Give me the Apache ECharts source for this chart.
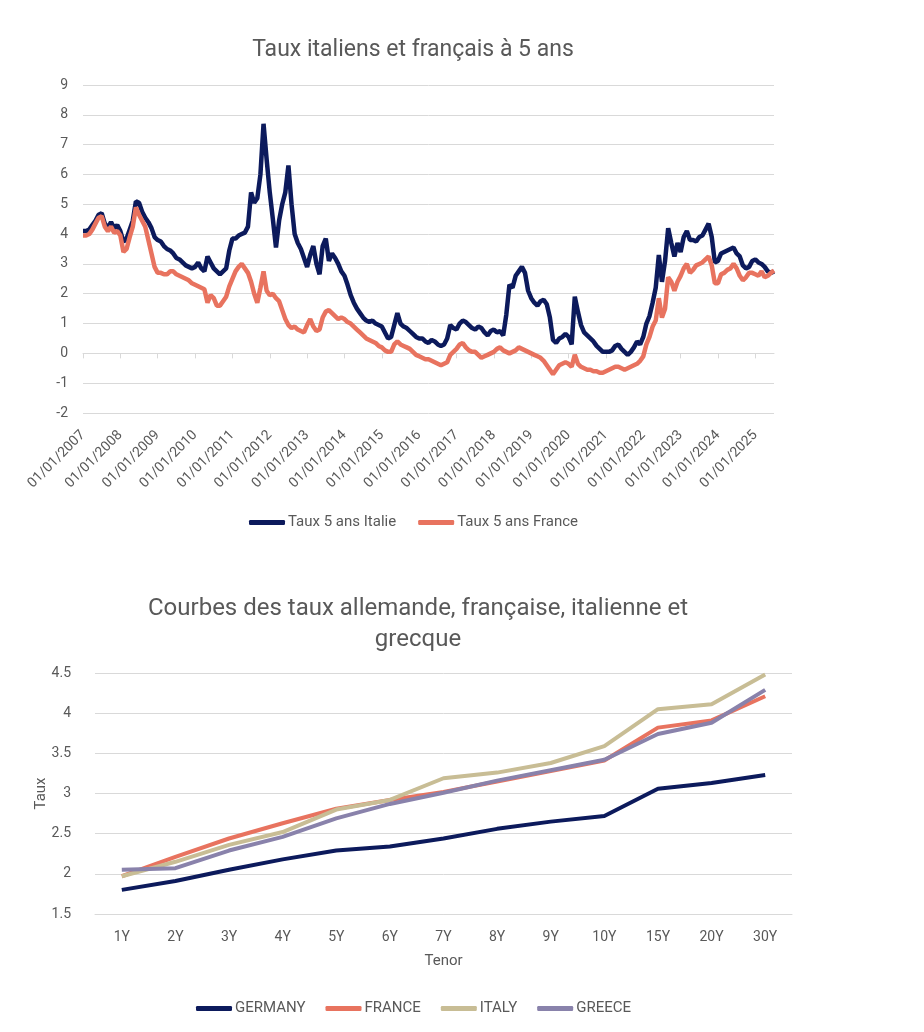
<!DOCTYPE html>
<html><head><meta charset="utf-8">
<script src="https://cdn.jsdelivr.net/npm/echarts@6/dist/echarts.min.js"></script>
<style>html,body{margin:0;padding:0;background:#fff}#c{width:924px;height:1032px}</style>
</head><body><div id="c"></div>
<script>
// ---- Chart 1: monthly 5Y yields, Jan 2007 .. Jul 2025 ----
const startYear = 2007;
const italy5y = [
4.10,4.10,4.15,4.30,4.45,4.65,4.70,4.35,4.20,4.40,4.20,4.30,
4.10,3.75,3.85,4.15,4.45,5.10,5.05,4.75,4.55,4.40,4.20,3.90,
3.80,3.75,3.60,3.50,3.45,3.35,3.20,3.15,3.05,2.95,2.90,2.85,
2.90,3.05,2.85,2.75,3.25,3.05,2.85,2.75,2.65,2.75,2.85,3.45,
3.85,3.85,3.95,4.00,4.05,4.25,5.40,5.05,5.20,6.00,7.70,6.50,
5.40,4.50,3.55,4.45,5.00,5.40,6.30,5.00,4.00,3.70,3.50,3.20,
2.90,3.30,3.60,3.00,2.65,3.60,3.85,3.10,3.35,3.20,3.00,2.75,
2.60,2.30,1.95,1.70,1.50,1.35,1.20,1.10,1.05,1.10,1.00,0.95,
0.90,0.70,0.50,0.55,0.95,1.35,1.00,0.90,0.85,0.75,0.65,0.55,
0.50,0.50,0.40,0.35,0.45,0.40,0.30,0.25,0.30,0.50,0.95,0.85,
0.80,1.00,1.10,1.05,0.95,0.85,0.80,0.90,0.85,0.70,0.60,0.75,
0.80,0.70,0.75,0.60,1.30,2.30,2.20,2.60,2.75,2.90,2.70,2.10,
1.85,1.70,1.60,1.75,1.80,1.65,1.20,0.45,0.35,0.50,0.55,0.65,
0.55,0.30,1.90,1.40,0.95,0.70,0.60,0.50,0.40,0.25,0.15,0.05,
0.05,0.05,0.10,0.25,0.30,0.15,0.05,-0.05,0.05,0.20,0.40,0.30,
0.55,1.00,1.25,1.70,2.20,3.30,2.40,3.10,4.20,3.70,3.25,3.70,
3.40,3.90,4.10,3.80,3.80,3.75,3.90,3.95,4.15,4.35,3.90,3.05,
3.10,3.35,3.40,3.45,3.50,3.55,3.35,3.25,2.95,2.85,2.90,3.10,
3.15,3.05,3.00,2.90,2.75,2.70,2.75
];
const france5y = [
3.95,3.95,4.00,4.15,4.35,4.55,4.60,4.25,4.10,4.25,4.05,4.10,
3.95,3.40,3.50,3.90,4.25,4.90,4.65,4.45,4.25,3.80,3.35,2.90,
2.70,2.70,2.65,2.65,2.75,2.75,2.65,2.60,2.55,2.50,2.45,2.35,
2.30,2.25,2.20,2.15,1.70,1.95,1.85,1.60,1.60,1.75,1.90,2.25,
2.50,2.75,2.90,3.00,2.85,2.70,2.40,2.00,1.70,2.20,2.75,2.10,
1.95,2.00,1.85,1.75,1.45,1.15,0.95,0.85,0.90,0.80,0.75,0.70,
0.95,1.15,0.90,0.75,0.80,1.20,1.40,1.45,1.35,1.25,1.15,1.20,
1.15,1.05,1.00,0.90,0.80,0.70,0.60,0.50,0.45,0.40,0.35,0.25,
0.20,0.10,0.05,0.05,0.30,0.40,0.30,0.25,0.20,0.15,0.05,-0.05,
-0.10,-0.15,-0.20,-0.20,-0.25,-0.30,-0.35,-0.40,-0.35,-0.30,-0.05,0.05,
0.15,0.30,0.35,0.20,0.10,0.05,0.05,-0.05,-0.15,-0.10,-0.05,0.00,
0.05,0.15,0.20,0.10,0.05,0.00,0.05,0.10,0.20,0.15,0.10,0.05,
0.00,-0.05,-0.10,-0.15,-0.25,-0.40,-0.55,-0.70,-0.55,-0.40,-0.35,-0.30,
-0.35,-0.45,-0.05,-0.35,-0.45,-0.50,-0.55,-0.55,-0.60,-0.60,-0.65,-0.65,
-0.60,-0.55,-0.50,-0.45,-0.45,-0.50,-0.55,-0.50,-0.45,-0.40,-0.35,-0.25,
-0.10,0.30,0.55,0.90,1.10,1.85,1.20,1.50,2.55,2.40,2.10,2.40,
2.60,2.85,3.00,2.70,2.80,2.95,3.00,3.05,3.15,3.25,2.95,2.35,
2.35,2.65,2.70,2.80,2.85,3.00,2.85,2.60,2.45,2.55,2.70,2.70,
2.65,2.60,2.75,2.55,2.60,2.70,2.78
];
const monthLabels = [];
for (let i = 0; i < italy5y.length; i++) {
  const y = startYear + Math.floor(i / 12), mo = (i % 12) + 1;
  monthLabels.push('01/' + String(mo).padStart(2, '0') + '/' + y);
}

// ---- Chart 2: yield curves ----
const tenors = ['1Y','2Y','3Y','4Y','5Y','6Y','7Y','8Y','9Y','10Y','15Y','20Y','30Y'];
const germany = [1.80,1.91,2.05,2.18,2.29,2.34,2.44,2.56,2.65,2.72,3.06,3.13,3.23];
const france  = [1.97,2.21,2.44,2.63,2.81,2.92,3.02,3.15,3.28,3.41,3.82,3.91,4.21];
const italy   = [1.97,2.15,2.36,2.52,2.80,2.92,3.19,3.26,3.38,3.59,4.05,4.11,4.48];
const greece  = [2.05,2.07,2.29,2.46,2.69,2.87,3.01,3.16,3.29,3.42,3.74,3.88,4.29];

const FONT = 'Roboto,"Liberation Sans",sans-serif';
const GRAY = '#595959';
const GRID = '#d9d9d9';
const NAVY = '#0c1a5c';
const SALMON = '#e8735f';
const KHAKI = '#c8bd95';
const PURPLE = '#8982ab';

const chart = echarts.init(document.getElementById('c'), null, {renderer: 'canvas'});
chart.setOption({
  backgroundColor: '#fff',
  animation: false,
  textStyle: {fontFamily: FONT, color: GRAY},
  title: [
    {text: 'Taux italiens et français à 5 ans', left: 408, top: 34, textAlign: 'center',
     textStyle: {fontFamily: FONT, fontSize: 23, fontWeight: 'normal', color: GRAY}},
    {text: 'Courbes des taux allemande, française, italienne et\ngrecque', left: 413, top: 588, textAlign: 'center',
     textStyle: {fontFamily: FONT, fontSize: 24, fontWeight: 'normal', color: GRAY, lineHeight: 31, align: 'center'}}
  ],
  legend: [
    {data: ['Taux 5 ans Italie', 'Taux 5 ans France'], left: 244, top: 510, icon: 'roundRect',
     itemWidth: 36, itemHeight: 5, itemGap: 22,
     textStyle: {fontFamily: FONT, fontSize: 15, color: GRAY, padding: [0,0,0,-2]}},
    {data: ['GERMANY', 'FRANCE', 'ITALY', 'GREECE'], left: 191, top: 996, icon: 'roundRect',
     itemWidth: 36, itemHeight: 5, itemGap: 20,
     textStyle: {fontFamily: FONT, fontSize: 15, color: GRAY, padding: [0,0,0,-2]}}
  ],
  grid: [
    {left: 83, top: 85, width: 691, height: 328, outerBoundsMode: 'none', containLabel: false},
    {left: 95, top: 673, width: 697, height: 241, outerBoundsMode: 'none', containLabel: false}
  ],
  xAxis: [
    {type: 'category', gridIndex: 0, data: monthLabels, boundaryGap: false,
     axisLine: {show: true, onZero: true, lineStyle: {color: GRID, width: 1}},
     axisTick: {show: true, length: 5, lineStyle: {color: GRID}, interval: (i) => i % 12 === 0},
     axisLabel: {interval: (i) => i % 12 === 0, rotate: 45, margin: 20, fontFamily: FONT, fontSize: 14, color: GRAY},
     splitLine: {show: false}},
    {type: 'category', gridIndex: 1, data: tenors, boundaryGap: true,
     name: 'Tenor', nameLocation: 'middle', nameGap: 40, nameMoveOverlap: false,
     nameTextStyle: {fontFamily: FONT, fontSize: 15, color: GRAY},
     axisLine: {show: true, lineStyle: {color: GRID}},
     axisTick: {show: false},
     axisLabel: {margin: 16, fontFamily: FONT, fontSize: 14, color: GRAY},
     splitLine: {show: false}}
  ],
  yAxis: [
    {type: 'value', gridIndex: 0, min: -2, max: 9, interval: 1,
     axisLine: {show: false}, axisTick: {show: false},
     axisLabel: {margin: 15, fontFamily: FONT, fontSize: 14, color: GRAY},
     splitLine: {show: true, lineStyle: {color: GRID, width: 1}}},
    {type: 'value', gridIndex: 1, min: 1.5, max: 4.5, interval: 0.5,
     name: 'Taux', nameLocation: 'middle', nameGap: 46, nameRotate: 90, nameMoveOverlap: false,
     nameTextStyle: {fontFamily: FONT, fontSize: 15, color: GRAY},
     axisLine: {show: false}, axisTick: {show: false},
     axisLabel: {margin: 24, fontFamily: FONT, fontSize: 14, color: GRAY},
     splitLine: {show: true, lineStyle: {color: GRID, width: 1}}}
  ],
  series: [
    {name: 'Taux 5 ans Italie', type: 'line', xAxisIndex: 0, yAxisIndex: 0, data: italy5y,
     showSymbol: false, symbol: 'none', lineStyle: {color: NAVY, width: 4.5}, itemStyle: {color: NAVY}},
    {name: 'Taux 5 ans France', type: 'line', xAxisIndex: 0, yAxisIndex: 0, data: france5y,
     showSymbol: false, symbol: 'none', lineStyle: {color: SALMON, width: 4.5}, itemStyle: {color: SALMON}},
    {name: 'GERMANY', type: 'line', xAxisIndex: 1, yAxisIndex: 1, data: germany,
     symbol: 'none', lineStyle: {color: NAVY, width: 4}, itemStyle: {color: NAVY}},
    {name: 'FRANCE', type: 'line', xAxisIndex: 1, yAxisIndex: 1, data: france,
     symbol: 'none', lineStyle: {color: SALMON, width: 4}, itemStyle: {color: SALMON}},
    {name: 'ITALY', type: 'line', xAxisIndex: 1, yAxisIndex: 1, data: italy,
     symbol: 'none', lineStyle: {color: KHAKI, width: 4}, itemStyle: {color: KHAKI}},
    {name: 'GREECE', type: 'line', xAxisIndex: 1, yAxisIndex: 1, data: greece,
     symbol: 'none', lineStyle: {color: PURPLE, width: 4}, itemStyle: {color: PURPLE}}
  ]
});
</script></body></html>
